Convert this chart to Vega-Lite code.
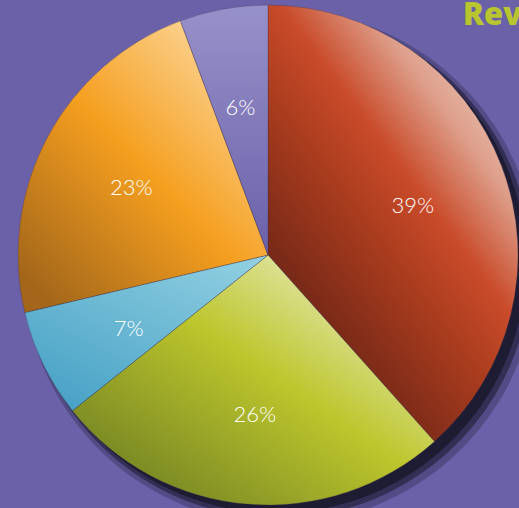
{
  "$schema": "https://vega.github.io/schema/vega-lite/v6.json",
  "autosize": {"type": "none"},
  "width": 502,
  "height": 500,
  "padding": {"left": 17, "top": 5, "right": 0, "bottom": 3},
  "background": "#6a61a9",
  "config": {"view": {"stroke": null}},
  "title": {
    "text": "Revenue",
    "anchor": "start",
    "frame": "group",
    "orient": "top",
    "dx": 446,
    "offset": -52,
    "baseline": "alphabetic",
    "font": "Open Sans",
    "fontWeight": 800,
    "fontSize": 31,
    "color": "#b8c52f"
  },
  "data": {
    "values": [
      {"i": 1, "k": "a", "v": 38.4, "label": "39%"},
      {"i": 2, "k": "b", "v": 25.9, "label": "26%"},
      {"i": 3, "k": "c", "v": 7.0, "label": "7%"},
      {"i": 4, "k": "d", "v": 23.0, "label": "23%"},
      {"i": 5, "k": "e", "v": 5.7, "label": "6%"}
    ]
  },
  "encoding": {
    "theta": {"field": "v", "type": "quantitative", "stack": true},
    "order": {"field": "i", "type": "quantitative"}
  },
  "layer": [
    {
      "mark": {"type": "arc", "outerRadius": 257, "xOffset": 12, "yOffset": 12, "fill": "#1e1c33", "opacity": 0.3}
    },
    {
      "mark": {"type": "arc", "outerRadius": 253, "xOffset": 10, "yOffset": 10, "fill": "#1e1c33", "opacity": 0.6}
    },
    {
      "mark": {"type": "arc", "outerRadius": 250, "xOffset": 8, "yOffset": 8, "fill": "#1e1c33", "opacity": 1}
    },
    {
      "mark": {"type": "arc", "outerRadius": 250, "stroke": "#3e3050", "strokeWidth": 0.5, "strokeOpacity": 0.6},
      "encoding": {
        "fill": {
          "condition": [
            {"test": "datum.k == 'a'", "value": {"gradient": "linear", "x1": 0.85, "y1": 0.05, "x2": 0.2, "y2": 0.9, "stops": [
              {"offset": 0, "color": "#efd0c4"},
              {"offset": 0.22, "color": "#dea08c"},
              {"offset": 0.42, "color": "#c94b2a"},
              {"offset": 0.6, "color": "#a93c1e"},
              {"offset": 0.85, "color": "#7a2a18"},
              {"offset": 1, "color": "#682314"}]}},
            {"test": "datum.k == 'b'", "value": {"gradient": "linear", "x1": 0.75, "y1": 0.05, "x2": 0.05, "y2": 0.75, "stops": [
              {"offset": 0, "color": "#e6e9b3"},
              {"offset": 0.45, "color": "#bdc62c"},
              {"offset": 1, "color": "#7b8a24"}]}},
            {"test": "datum.k == 'c'", "value": {"gradient": "linear", "x1": 0.9, "y1": 0, "x2": 0.1, "y2": 1, "stops": [
              {"offset": 0, "color": "#90cfe1"},
              {"offset": 1, "color": "#45a0c5"}]}},
            {"test": "datum.k == 'd'", "value": {"gradient": "linear", "x1": 0.9, "y1": 0.05, "x2": 0.1, "y2": 0.95, "stops": [
              {"offset": 0, "color": "#fddca6"},
              {"offset": 0.5, "color": "#f59f1f"},
              {"offset": 1, "color": "#a3661a"}]}}
          ],
          "value": {"gradient": "linear", "x1": 0.5, "y1": 0, "x2": 0.5, "y2": 1, "stops": [
            {"offset": 0, "color": "#9791c9"},
            {"offset": 1, "color": "#6a61aa"}]}
        }
      }
    },
    {
      "mark": {"type": "text", "radius": 155, "dy": 6, "font": "Lato", "fontWeight": 300, "fontSize": 22, "fill": "#ffffff"},
      "encoding": {"text": {"field": "label"}}
    }
  ]
}
